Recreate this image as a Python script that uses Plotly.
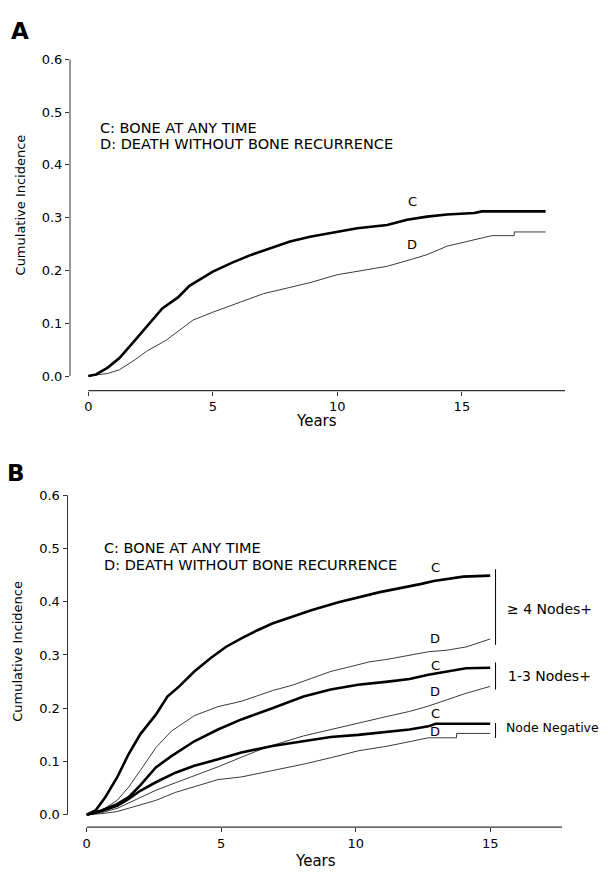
import plotly.graph_objects as go

# ---------------- data ----------------
# Panel A
a_c_years = [0, 0.31, 0.78, 1.25, 1.88, 2.34, 2.97, 3.6, 4.06, 5.0, 5.78, 6.56, 7.34, 8.1,
             8.9, 10.0, 10.8, 12.0, 12.8, 13.6, 14.4, 15.5, 15.8, 18.36]
a_c_inc = [0, 0.003, 0.016, 0.034, 0.068, 0.093, 0.128, 0.149, 0.171, 0.198, 0.215, 0.230,
           0.243, 0.255, 0.264, 0.274, 0.280, 0.286, 0.296, 0.302, 0.306, 0.309, 0.312, 0.312]
a_d_years = [0, 0.78, 1.25, 1.88, 2.34, 3.13, 4.2, 5.0, 6.1, 7.03, 8.1, 8.9, 10.0, 11.25,
             12.0, 12.97, 13.6, 14.4, 15.2, 15.8, 16.2, 17.1, 17.1, 18.36]
a_d_inc = [0, 0.005, 0.012, 0.031, 0.047, 0.068, 0.106, 0.121, 0.140, 0.156, 0.168, 0.177,
           0.192, 0.202, 0.208, 0.221, 0.230, 0.246, 0.255, 0.261, 0.266, 0.266, 0.273, 0.273]

# Panel B
b4_c_years = [0, 0.33, 0.69, 1.13, 1.56, 1.99, 2.57, 3.0, 3.44, 4.0, 4.6, 5.17, 5.75, 6.33,
              6.9, 7.63, 8.35, 9.36, 10.0, 10.9, 12.4, 12.9, 14.0, 15.0]
b4_c_inc = [0, 0.008, 0.033, 0.070, 0.114, 0.151, 0.188, 0.222, 0.241, 0.269, 0.294, 0.315,
            0.331, 0.346, 0.359, 0.371, 0.384, 0.399, 0.407, 0.418, 0.433, 0.439, 0.447, 0.449]
b4_d_years = [0, 0.55, 1.13, 1.56, 1.99, 2.57, 3.15, 4.0, 4.88, 5.75, 6.9, 7.63, 8.35, 9.07,
              9.8, 10.5, 11.2, 12.0, 12.7, 13.4, 14.1, 15.0]
b4_d_inc = [0, 0.008, 0.027, 0.052, 0.083, 0.126, 0.157, 0.186, 0.203, 0.213, 0.233, 0.243,
            0.256, 0.269, 0.278, 0.287, 0.292, 0.300, 0.306, 0.309, 0.315, 0.330]
b13_c_years = [0, 0.55, 1.13, 1.56, 1.99, 2.57, 3.15, 4.0, 4.88, 5.75, 6.9, 8.06, 9.07, 10.09,
               11.2, 12.0, 12.7, 13.4, 14.1, 15.0]
b13_c_inc = [0, 0.008, 0.020, 0.033, 0.055, 0.089, 0.110, 0.138, 0.160, 0.179, 0.200, 0.222,
             0.235, 0.244, 0.250, 0.255, 0.263, 0.269, 0.275, 0.276]
b13_d_years = [0, 0.55, 1.13, 1.56, 1.99, 2.57, 3.3, 4.0, 4.88, 5.75, 6.69, 8.06, 9.07, 10.09,
               11.2, 12.0, 12.7, 13.4, 14.1, 15.0]
b13_d_inc = [0, 0.004, 0.012, 0.022, 0.033, 0.046, 0.060, 0.073, 0.090, 0.108, 0.127, 0.148,
             0.160, 0.173, 0.185, 0.194, 0.204, 0.216, 0.228, 0.241]
bnn_c_years = [0, 0.55, 1.13, 1.56, 1.99, 2.57, 3.3, 4.0, 4.88, 5.75, 6.9, 8.06, 9.07, 10.09,
               11.2, 12.0, 12.7, 12.97, 15.0]
bnn_c_inc = [0, 0.007, 0.017, 0.030, 0.045, 0.061, 0.079, 0.092, 0.104, 0.117, 0.129, 0.138,
             0.146, 0.150, 0.155, 0.160, 0.166, 0.171, 0.171]
bnn_d_years = [0, 0.55, 1.13, 1.99, 2.57, 3.3, 4.0, 4.88, 5.75, 6.9, 8.06, 9.07, 10.09, 11.2,
               12.0, 12.7, 13.75, 13.75, 15.0]
bnn_d_inc = [0, 0.002, 0.006, 0.018, 0.027, 0.042, 0.052, 0.066, 0.071, 0.083, 0.095, 0.107,
             0.120, 0.129, 0.138, 0.1445, 0.1445, 0.1527, 0.1527]

y_tick_vals = [0.0, 0.1, 0.2, 0.3, 0.4, 0.5, 0.6]
x_tick_vals = [0, 5, 10, 15]
legend_c = "C: BONE AT ANY TIME"
legend_d = "D: DEATH WITHOUT BONE RECURRENCE"

# ---------------- figure ----------------
# the page body adds an 8px margin, so the figure is 8px smaller each way
OFF = 8
W, H = 608 - OFF, 872 - OFF
FONT = "DejaVu Sans"
THICK = dict(color="black", width=2.6)
THIN = dict(color="#3a3a3a", width=1)

fig = go.Figure()

def add(x, y, line, ax):
    fig.add_trace(go.Scatter(x=x, y=y, mode="lines", line=line, showlegend=False,
                             hoverinfo="skip", xaxis=ax[0], yaxis=ax[1]))

add(a_d_years, a_d_inc, THIN, ("x", "y"))
add(a_c_years, a_c_inc, THICK, ("x", "y"))
add(b4_d_years, b4_d_inc, THIN, ("x2", "y2"))
add(b13_d_years, b13_d_inc, THIN, ("x2", "y2"))
add(bnn_d_years, bnn_d_inc, THIN, ("x2", "y2"))
add(b4_c_years, b4_c_inc, THICK, ("x2", "y2"))
add(b13_c_years, b13_c_inc, THICK, ("x2", "y2"))
add(bnn_c_years, bnn_c_inc, THICK, ("x2", "y2"))

def px(v):  # screen pixel x -> paper
    return (v - OFF) / W

def py(v):  # screen pixel y (from top) -> paper
    return 1 - (v - OFF) / H

axis_common = dict(showgrid=False, zeroline=False, showline=False, ticks="outside",
                   ticklen=4, tickwidth=1, tickcolor="#333",
                   tickfont=dict(family=FONT, size=13, color="black"))

fig.update_layout(
    width=W, height=H, margin=dict(l=0, r=0, t=0, b=0),
    paper_bgcolor="white", plot_bgcolor="white",
    font=dict(family=FONT, color="black"),
    xaxis=dict(domain=[px(70), px(565)], range=[-0.735, 19.14], tickvals=x_tick_vals,
               anchor="y", **axis_common),
    yaxis=dict(domain=[py(386.7), py(52.7)], range=[-0.0276, 0.6], tickvals=y_tick_vals,
               tickformat=".1f", anchor="x", **axis_common),
    xaxis2=dict(domain=[px(67.5), px(562)], range=[-0.714, 17.67], tickvals=x_tick_vals,
                anchor="y2", **axis_common),
    yaxis2=dict(domain=[py(826.7), py(492.1)], range=[-0.0231, 0.6], tickvals=y_tick_vals,
                tickformat=".1f", anchor="x2", **axis_common),
)

shapes = []
# axis lines (y from 0 to 0.6, x from 0 to the end of the axis)
for xa, ya, xend in (("x", "y", 19.14), ("x2", "y2", 17.67)):
    shapes.append(dict(type="line", xref=xa + " domain", yref=ya, x0=0, x1=0, y0=0, y1=0.6,
                       line=dict(color="#333", width=1)))
    shapes.append(dict(type="line", xref=xa, yref=ya + " domain", x0=0, x1=xend, y0=0, y1=0,
                       line=dict(color="#333", width=1.2)))
# group brackets in panel B
for y0, y1 in ((0.319, 0.461), (0.235, 0.286), (0.144, 0.172)):
    shapes.append(dict(type="line", xref="x2", yref="y2", x0=15.2, x1=15.2, y0=y0, y1=y1,
                       line=dict(color="black", width=1)))
fig.update_layout(shapes=shapes)

ann = []
def text(t, x, y, xref, yref, size, xanchor="center", yanchor="middle", bold=False, angle=0):
    ann.append(dict(text=("<b>%s</b>" % t) if bold else t, x=x, y=y, xref=xref, yref=yref,
                    showarrow=False, xanchor=xanchor, yanchor=yanchor, textangle=angle,
                    font=dict(family=FONT, size=size, color="black")))

# panel letters
text("A", px(20), py(24), "paper", "paper", 23, bold=True)
text("B", px(16), py(470), "paper", "paper", 23, bold=True)
# axis titles
text("Cumulative Incidence", px(20), py(200), "paper", "paper", 13, angle=-90)
text("Cumulative Incidence", px(18), py(650), "paper", "paper", 13, angle=-90)
text("Years", 9.16, py(417), "x", "paper", 15)
text("Years", 8.5, 0.0, "x2", "paper", 15, yanchor="bottom")
# legends
text(legend_c, 0.40, 0.469, "x", "y", 14.5, xanchor="left")
text(legend_d, 0.40, 0.440, "x", "y", 14.5, xanchor="left")
text(legend_c, 0.56, 0.500, "x2", "y2", 14.5, xanchor="left")
text(legend_d, 0.56, 0.468, "x2", "y2", 14.5, xanchor="left")
# curve labels
text("C", 13.0, 0.330, "x", "y", 13)
text("D", 13.0, 0.249, "x", "y", 13)
for lab, v in (("C", 0.464), ("D", 0.331), ("C", 0.280), ("D", 0.231), ("C", 0.191), ("D", 0.157)):
    text(lab, 12.95, v, "x2", "y2", 13)
# group labels
text("\u2265 4 Nodes+", 15.55, 0.386, "x2", "y2", 14, xanchor="left")
text("1-3 Nodes+", 15.6, 0.260, "x2", "y2", 14, xanchor="left")
text("Node Negative", 15.5, 0.163, "x2", "y2", 12.5, xanchor="left")
fig.update_layout(annotations=ann)

fig.write_html("out.html")
